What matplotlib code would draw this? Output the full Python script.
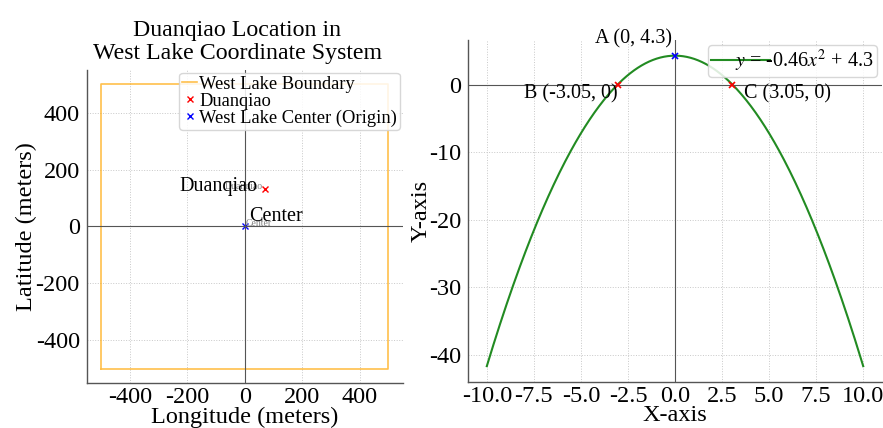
import numpy as np
import matplotlib
matplotlib.use('Agg')
import matplotlib.pyplot as plt

plt.rcParams['font.family'] = ['Liberation Serif', 'DejaVu Serif']
plt.rcParams['mathtext.fontset'] = 'stix'
plt.rcParams['axes.unicode_minus'] = False

# ---------------- data ----------------
# left panel: West Lake boundary (square), Duanqiao and centre
boundary_x = [-500, 500, 500, -500, -500]
boundary_y = [-500, -500, 500, 500, -500]
duanqiao_xy = (70, 133)
center_xy = (0, 0)

# right panel: parabola y = a x^2 + c
a_coef = -0.46
c_coef = 4.3
x_range = (-10, 10)
pt_A = (0, 4.3)
pt_B = (-3.05, 0)
pt_C = (3.05, 0)

spine_col = '#555555'
grid_kw = dict(color='#c8c8c8', linestyle=':', linewidth=0.7)


def style_axes(ax):
    for s in ['top', 'right']:
        ax.spines[s].set_visible(False)
    for s in ['left', 'bottom']:
        ax.spines[s].set_color(spine_col)
        ax.spines[s].set_linewidth(1.0)
    ax.tick_params(length=0, labelsize=17.5)
    ax.tick_params(axis='y', pad=5)
    ax.tick_params(axis='x', pad=3)
    ax.grid(True, **grid_kw)
    ax.set_axisbelow(True)


fig = plt.figure(figsize=(8.83, 4.28), dpi=100)

# ----- left: location map -----
ax1 = fig.add_axes([0.0982, 0.1058, 0.3579, 0.7306])
style_axes(ax1)
ax1.plot(boundary_x, boundary_y, color='orange', alpha=0.7, linewidth=1.2,
         label='West Lake Boundary')
ax1.plot(*duanqiao_xy, 'x', color='red', markersize=4, markeredgewidth=1.0,
         label='Duanqiao')
ax1.plot(*center_xy, 'x', color='blue', markersize=4, markeredgewidth=1.0,
         label='West Lake Center (Origin)')
ax1.axhline(0, color='#555555', linewidth=0.8)
ax1.axvline(0, color='#555555', linewidth=0.8)

ax1.text(duanqiao_xy[0] - 7, duanqiao_xy[1], 'Duanqiao', fontsize=7,
         color='gray', ha='right', va='baseline')
ax1.text(center_xy[0] + 3, center_xy[1], 'Center', fontsize=7,
         color='gray', ha='left', va='baseline')
ax1.text(45, 140, 'Duanqiao', fontsize=14.5, ha='right', va='center')
ax1.text(15, 0, 'Center', fontsize=14.5, ha='left', va='bottom')

ax1.set_xticks([-400, -200, 0, 200, 400])
ax1.set_yticks([-400, -200, 0, 200, 400])
ax1.set_xlabel('Longitude (meters)', fontsize=17.5, labelpad=-1)
ax1.set_ylabel('Latitude (meters)', fontsize=17.5, labelpad=-1)
ax1.set_title('Duanqiao Location in\nWest Lake Coordinate System',
              fontsize=17.2, x=0.476, pad=8, linespacing=1.1)
ax1.legend(loc='upper right', fontsize=13.3, labelspacing=0.0,
           handlelength=0.85, handletextpad=0.1, borderpad=0.15,
           borderaxespad=0.15, framealpha=0.85, edgecolor='#d0d0d0')

# ----- right: parabola -----
ax2 = fig.add_axes([0.530, 0.1082, 0.4689, 0.798])
style_axes(ax2)
xs = np.linspace(x_range[0], x_range[1], 400)
ax2.plot(xs, a_coef * xs ** 2 + c_coef, color='#228B22', linewidth=1.5,
         label=r'$y$ = -0.46$x^2$ + 4.3')
ax2.axhline(0, color='#555555', linewidth=0.8)
ax2.axvline(0, color='#555555', linewidth=0.8)
ax2.plot(*pt_A, 'x', color='blue', markersize=5, markeredgewidth=1.2)
ax2.plot(*pt_B, 'x', color='red', markersize=5, markeredgewidth=1.2)
ax2.plot(*pt_C, 'x', color='red', markersize=5, markeredgewidth=1.2)
ax2.text(pt_A[0] - 0.15, pt_A[1] + 1.0, 'A (0, 4.3)', fontsize=14.5, ha='right', va='bottom')
ax2.text(pt_B[0], pt_B[1], 'B (-3.05, 0)', fontsize=14.5, ha='right', va='top')
ax2.text(pt_C[0] + 0.6, pt_C[1], 'C (3.05, 0)', fontsize=14.5, ha='left', va='top')

ax2.set_xticks(np.arange(-10, 10.1, 2.5))
ax2.set_xticklabels(['-10.0', '-7.5', '-5.0', '-2.5', '0.0', '2.5', '5.0', '7.5', '10.0'])
ax2.set_yticks([-40, -30, -20, -10, 0])
ax2.set_yticklabels(['-40', '-30', '-20', '-10', '0'])
ax2.set_xlabel('X-axis', fontsize=17.5, labelpad=-1)
ax2.set_ylabel('Y-axis', fontsize=17.5, labelpad=-2)
ax2.legend(loc='upper right', fontsize=14.5, handlelength=2.9,
           handletextpad=-1.7, borderpad=0.15, borderaxespad=0.25,
           framealpha=0.85, edgecolor='#d0d0d0')

fig.savefig('out.png', dpi=100)
